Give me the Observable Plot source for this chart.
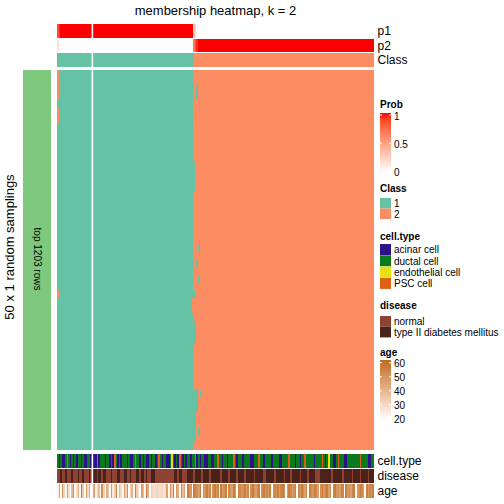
<!DOCTYPE html>
<html><head><meta charset="utf-8">
<script src="https://cdn.jsdelivr.net/npm/d3@7"></script>
<script src="https://cdn.jsdelivr.net/npm/@observablehq/plot@0.6"></script>
<style>
body{margin:0;background:#fff;font-family:"Liberation Sans",Arial,sans-serif;}
#wrap{position:relative;width:504px;height:504px;overflow:hidden;background:#fff;}
#wrap > svg{position:absolute;left:0;}
</style></head><body><div id="wrap"></div>
<script>
// ---------------- data ----------------
const N = 200;                 // number of samples (columns)
const gapCol = 22;             // white separator after this column
const class1Cols = 86;         // columns 0..85 are class 1
const p1Special = [[0, 0.85], [1, 0.96], [86, 0.3], [87, 0.15], [88, 0.05]];
const nRows = 50;              // 50 random samplings
// first column of class 2 in each sampling row
const rowBoundary = [86,86,86,86,86,86,86,86,86,86, 86,86,87,87,87,87,86,86,86,86,
                     86,86,86,86,86,86,86,86,86,87, 85,85,86,88,88,88,86,86,86,86,
                     86,86,89,89,89,88,88,88,88,86];
const col0Class2Rows = [0, 1, 2, 3, 5, 6, 29];
const extraTeal = [[2,88],[3,88],[5,87],[6,87],[23,87],[23,89],[25,88],[27,89],[42,90],[47,89]];

const cellTypes = ["acinar cell", "ductal cell", "endothelial cell", "PSC cell"];
const cellTypeCodes = ["a", "d", "e", "p"];
const cellTypeSeq = [
  "dadaadpdadadaddadaad","dadaapadddaddadapdad","adddadaadpddadadaada","ddadpdaddaadedadapda",
  "daddaddpadaddaaddaad","dpddaddadddpdadddadd","ddaadddpddaddddadddd","aaddddpdddaddaddpddd",
  "ddaddddpdadeddaadpdd","daaddddddddpddddaadd"].join("");
const diseases = ["normal", "type II diabetes mellitus"];
const diseaseCodes = ["n", "t"];
const diseaseSeq = [
  "nntnntnnntnnntnntnnn","tntttnttnttnnntnnntt","nnttnntnnnttnttntnnt","ttnnnnnnnnnnnnttnttn",
  "nnttttnttttnttttnttt","tttnttttnttttnttttnt","ttttntttttnntttttntt","tttntttntttttnttttnt",
  "tttnnntttttttntttttt","ntttttnttttnttttnttt"].join("");
const age = [
  24,45,20,50,32,22,48,28,20,38,52,20,30,42,22,55,35,20,47,30,
  40,20,32,46,24,30,38,20,50,32,22,42,36,20,48,26,33,55,21,38,
  30,22,46,34,50,20,32,40,22,52,34,28,20,46,38,22,55,42,20,34,
  30,28,30,32,29,30,31,28,30,46,22,50,34,55,20,48,42,21,52,38,
  46,20,55,50,48,20,55,52,50,46,55,20,50,48,55,46,52,20,50,55,
  48,52,20,55,46,50,55,20,52,48,46,55,50,20,55,52,48,50,55,46,
  52,20,50,55,48,46,52,55,20,50,55,48,52,46,55,20,50,52,48,55,
  46,52,55,50,20,48,55,52,46,50,55,20,52,48,55,50,46,52,20,55,
  50,48,55,52,46,20,50,55,48,52,55,46,50,20,52,55,48,50,46,55,
  52,20,55,48,50,46,52,55,20,48,50,55,52,46,20,55,48,52,50,55];

const topRows = ["p1", "p2", "Class"];
const bottomRows = ["cell.type", "disease", "age"];
const probTicks = [0, 0.5, 1];
const ageTicks = [20, 30, 40, 50, 60];

// ---------------- colours ----------------
const classColors = {1: "#66C2A5", 2: "#FC8D62"};
const cellTypeColors = ["#2C1189", "#0B7A1F", "#E5E113", "#DF6012"];
const diseaseColors = ["#8D4234", "#4A2219"];
const probColor = d3.scaleLinear().domain([0, 1]).range(["#FFFFFF", "#FF0000"]).interpolate(d3.interpolateLab);
const ageColor = d3.scaleLinear().domain([20, 60]).range(["#FFFFFF", "#BE6C1E"]).interpolate(d3.interpolateLab).clamp(true);

// ---------------- derived tables ----------------
const p1 = d3.range(N).map(c => c < class1Cols ? 1 : 0);
p1Special.forEach(([c, v]) => p1[c] = v);
const colClass = p1.map(v => v >= 0.5 ? 1 : 2);

const topData = [];
for (let c = 0; c < N; c++) {
  topData.push({c, row: "p1", fill: probColor(p1[c])});
  topData.push({c, row: "p2", fill: probColor(1 - p1[c])});
  topData.push({c, row: "Class", fill: classColors[colClass[c]]});
}
const mainData = [];
for (let r = 0; r < nRows; r++) {
  for (let c = 0; c < N; c++) {
    let k = c < rowBoundary[r] ? 1 : 2;
    if (c === 0 && col0Class2Rows.includes(r)) k = 2;
    if (extraTeal.some(([rr, cc]) => rr === r && cc === c)) k = 1;
    mainData.push({c, r, fill: classColors[k]});
  }
}
const bottomData = [];
for (let c = 0; c < N; c++) {
  bottomData.push({c, row: "cell.type", fill: cellTypeColors[cellTypeCodes.indexOf(cellTypeSeq[c])]});
  bottomData.push({c, row: "disease", fill: diseaseColors[diseaseCodes.indexOf(diseaseSeq[c])]});
  bottomData.push({c, row: "age", fill: ageColor(age[c])});
}

// ---------------- plots ----------------
const wrap = document.getElementById("wrap");
const font = "'Liberation Sans', Arial, Helvetica, sans-serif";
function block(data, rows, height, top, withLabels, pad) {
  const svg = Plot.plot({
    width: 504, height, marginLeft: 57, marginRight: 130, marginTop: 0, marginBottom: 0,
    style: {fontFamily: font, background: "transparent", overflow: "visible"},
    x: {domain: [0, N], axis: null},
    y: {domain: rows, axis: null, paddingInner: pad, paddingOuter: 0, round: false, align: 0.5},
    color: {type: "identity"},
    marks: [
      Plot.barX(data, {x1: "c", x2: d => d.c + 1, y: withLabels ? "row" : "r", fill: "fill", shapeRendering: "crispEdges"}),
      Plot.ruleX([gapCol], {stroke: "white", strokeWidth: 1.6}),
      withLabels ? Plot.text(rows, {x: () => N, y: d => d, text: d => d, textAnchor: "start", dx: 3, fontSize: 12, fill: "black"}) : null
    ]
  });
  svg.style.top = top + "px";
  wrap.appendChild(svg);
}
block(topData, topRows, 43, 24, true, 0.06);
block(mainData, d3.range(nRows), 380, 70, false, 0);
block(bottomData, bottomRows, 44, 454, true, 0.06);

// ---------------- titles, side bar, legends ----------------
const ov = d3.select(wrap).append("svg").attr("width", 504).attr("height", 504)
  .style("top", "0px").style("font-family", font);
const defs = ov.append("defs");
function grad(id, stops) {
  const g = defs.append("linearGradient").attr("id", id).attr("x1", 0).attr("y1", 1).attr("x2", 0).attr("y2", 0);
  stops.forEach(([o, col]) => g.append("stop").attr("offset", o).attr("stop-color", col));
}
grad("gProb", d3.range(0, 1.01, 0.1).map(t => [t, probColor(t)]));
grad("gAge", d3.range(0, 1.01, 0.1).map(t => [t, ageColor(20 + 40 * t)]));

ov.append("text").attr("x", 215.5).attr("y", 15).attr("text-anchor", "middle").attr("font-size", 13)
  .text("membership heatmap, k = 2");
ov.append("rect").attr("x", 23).attr("y", 70).attr("width", 28).attr("height", 380).attr("fill", "#7FC97F");
ov.append("text").attr("transform", "translate(34,259) rotate(90)").attr("text-anchor", "middle")
  .attr("font-size", 10).text("top 1203 rows");
ov.append("text").attr("transform", "translate(14,247) rotate(-90)").attr("text-anchor", "middle")
  .attr("font-size", 13).text("50 x 1 random samplings");

const lx = 380;
function title(y, t) {
  ov.append("text").attr("x", lx).attr("y", y).attr("font-size", 10).attr("font-weight", "bold").text(t);
}
function label(y, t) {
  ov.append("text").attr("x", lx + 14).attr("y", y).attr("dy", "0.35em").attr("font-size", 10).text(t);
}
// Prob
title(108, "Prob");
ov.append("rect").attr("x", lx).attr("y", 113).attr("width", 11).attr("height", 59).attr("fill", "url(#gProb)");
const probY = d3.scaleLinear().domain([0, 1]).range([171.6, 115]);
probTicks.forEach(t => {
  ov.append("line").attr("x1", lx).attr("x2", lx + 2).attr("y1", probY(t)).attr("y2", probY(t)).attr("stroke", "white");
  ov.append("line").attr("x1", lx + 9).attr("x2", lx + 11).attr("y1", probY(t)).attr("y2", probY(t)).attr("stroke", "white");
  label(probY(t) + 1, t === 0.5 ? "0.5" : String(t));
});
// Class
title(192, "Class");
[1, 2].forEach((k, i) => {
  ov.append("rect").attr("x", lx).attr("y", 198 + i * 10.5).attr("width", 11).attr("height", 10.5).attr("fill", classColors[k]);
  label(198 + i * 10.5 + 5.5, String(k));
});
// cell.type
title(240, "cell.type");
cellTypes.forEach((t, i) => {
  ov.append("rect").attr("x", lx).attr("y", 244 + i * 11.3).attr("width", 11).attr("height", 11).attr("fill", cellTypeColors[i]);
  label(244 + i * 11.3 + 5.8, t);
});
// disease
title(309, "disease");
diseases.forEach((t, i) => {
  ov.append("rect").attr("x", lx).attr("y", 316 + i * 10.7).attr("width", 11).attr("height", 10.7).attr("fill", diseaseColors[i]);
  label(316 + i * 10.7 + 5.5, t);
});
// age
title(356, "age");
ov.append("rect").attr("x", lx).attr("y", 360).attr("width", 11).attr("height", 60).attr("fill", "url(#gAge)");
const ageY = d3.scaleLinear().domain([20, 60]).range([418.7, 362.7]);
ageTicks.forEach(t => {
  ov.append("line").attr("x1", lx).attr("x2", lx + 2).attr("y1", ageY(t)).attr("y2", ageY(t)).attr("stroke", "white");
  ov.append("line").attr("x1", lx + 9).attr("x2", lx + 11).attr("y1", ageY(t)).attr("y2", ageY(t)).attr("stroke", "white");
  label(ageY(t) + 1, String(t));
});
</script></body></html>
